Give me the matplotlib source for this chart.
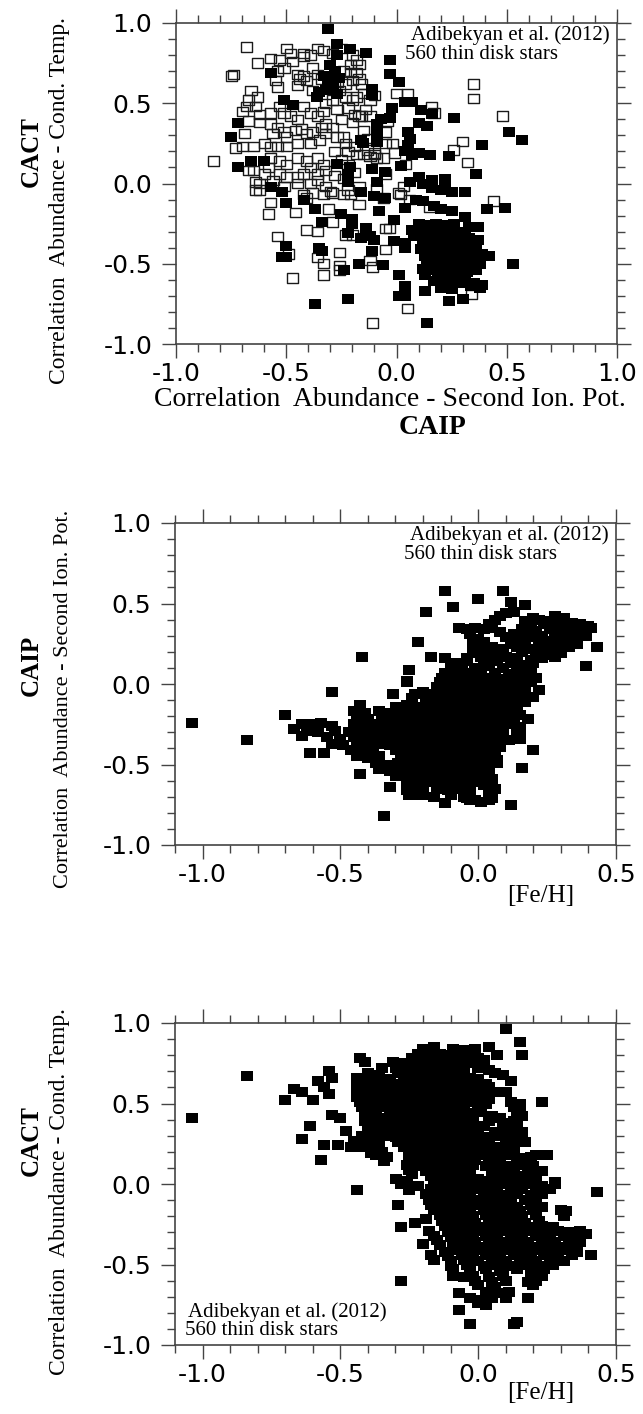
import numpy as np
import matplotlib
matplotlib.use("Agg")
import matplotlib.pyplot as plt
from matplotlib.path import Path
from matplotlib.ticker import MultipleLocator, FixedLocator, FormatStrFormatter

# Panel 1: (CAIP, CACT) per star, open and filled squares
p1_open = [
    (-0.68, 0.85), (-0.50, 0.84), (-0.48, 0.81), (-0.42, 0.81), (-0.36, 0.84), (-0.33, 0.83),
    (-0.53, 0.77), (-0.57, 0.78), (-0.47, 0.76), (-0.42, 0.79), (-0.39, 0.80), (-0.63, 0.75),
    (-0.74, 0.68), (-0.75, 0.67), (-0.54, 0.70), (-0.51, 0.72), (-0.55, 0.64), (-0.54, 0.60),
    (-0.45, 0.68), (-0.44, 0.65), (-0.42, 0.67), (-0.41, 0.64), (-0.36, 0.68), (-0.34, 0.65),
    (-0.24, 0.70), (-0.21, 0.69), (-0.18, 0.69), (-0.17, 0.65), (-0.16, 0.62), (-0.20, 0.64),
    (-0.23, 0.62), (-0.27, 0.63), (-0.26, 0.58), (-0.66, 0.58), (-0.63, 0.54), (-0.67, 0.52),
    (-0.64, 0.48), (-0.62, 0.43), (-0.68, 0.48), (-0.70, 0.45), (-0.57, 0.44), (-0.53, 0.48),
    (-0.51, 0.44), (-0.48, 0.42), (-0.45, 0.40), (-0.42, 0.48), (-0.39, 0.44), (-0.36, 0.42),
    (-0.33, 0.45), (-0.32, 0.50), (-0.29, 0.52), (-0.23, 0.54), (-0.20, 0.52), (-0.18, 0.54),
    (-0.15, 0.56), (-0.19, 0.43), (-0.16, 0.42), (-0.12, 0.52), (-0.10, 0.55), (-0.67, 0.39),
    (-0.62, 0.38), (-0.57, 0.37), (-0.54, 0.35), (-0.51, 0.32), (-0.56, 0.31), (-0.50, 0.29),
    (-0.46, 0.33), (-0.43, 0.34), (-0.41, 0.31), (-0.38, 0.32), (-0.34, 0.35), (-0.32, 0.37),
    (-0.29, 0.35), (-0.32, 0.31), (-0.27, 0.29), (-0.24, 0.29), (-0.23, 0.25), (-0.35, 0.27),
    (-0.39, 0.25), (-0.45, 0.25), (-0.50, 0.23), (-0.54, 0.23), (-0.57, 0.23), (-0.60, 0.25),
    (-0.65, 0.23), (-0.70, 0.23), (-0.73, 0.22), (-0.69, 0.31), (-0.18, 0.18), (-0.15, 0.18),
    (-0.12, 0.17), (-0.09, 0.16), (-0.06, 0.16), (-0.05, 0.25), (-0.12, 0.42), (-0.17, 0.42),
    (-0.57, 0.16), (-0.53, 0.14), (-0.50, 0.12), (-0.45, 0.16), (-0.41, 0.14), (-0.39, 0.10),
    (-0.36, 0.16), (-0.33, 0.12), (-0.32, 0.08), (-0.42, 0.06), (-0.45, 0.04), (-0.50, 0.04),
    (-0.53, 0.06), (-0.39, 0.00), (-0.36, 0.02), (-0.32, -0.02), (-0.30, -0.05), (-0.65, 0.08),
    (-0.67, 0.08), (-0.62, 0.00), (-0.64, 0.01), (-0.51, -0.02), (-0.45, 0.00), (-0.42, -0.07),
    (-0.41, -0.09), (-0.38, -0.06), (-0.33, -0.07), (-0.29, -0.06), (-0.24, -0.07), (-0.21, -0.07),
    (-0.17, -0.02), (-0.06, -0.09), (0.02, -0.07), (-0.20, 0.80), (-0.18, 0.77), (-0.17, 0.74),
    (-0.21, 0.74), (-0.25, 0.84), (-0.29, 0.81), (-0.38, 0.72), (-0.45, 0.61), (-0.38, 0.58),
    (-0.30, 0.60), (-0.27, 0.46), (-0.22, 0.47), (-0.14, 0.46), (-0.25, 0.40), (-0.20, 0.38),
    (-0.15, 0.33), (-0.13, 0.28), (-0.19, 0.23), (-0.22, 0.20), (-0.28, 0.20), (-0.25, 0.15),
    (-0.22, 0.12), (-0.19, 0.07), (-0.13, 0.21), (-0.10, 0.19), (-0.28, 0.05), (-0.24, 0.03),
    (-0.36, 0.06), (-0.58, 0.10), (-0.60, 0.06), (-0.56, 0.02), (-0.83, 0.14), (-0.64, -0.04),
    (-0.62, -0.04), (-0.57, -0.12), (-0.58, -0.19), (-0.54, -0.33), (-0.49, -0.44), (-0.47, -0.59),
    (-0.41, -0.29), (-0.36, -0.30), (-0.46, -0.18), (-0.31, -0.16), (-0.29, -0.24), (-0.36, -0.46),
    (-0.33, -0.50), (-0.33, -0.57), (-0.26, -0.43), (-0.26, -0.51), (-0.26, -0.54), (-0.23, -0.32),
    (-0.20, -0.32), (-0.17, -0.13), (-0.22, -0.04), (-0.12, -0.48), (-0.11, -0.52), (-0.05, -0.41),
    (-0.05, -0.28), (-0.03, -0.28), (-0.11, -0.87), (0.05, -0.78), (0.34, -0.69), (0.35, 0.62),
    (0.35, 0.53), (0.48, 0.42), (0.30, 0.26), (0.26, 0.21), (0.32, 0.13), (0.44, -0.11),
    (0.15, -0.15), (0.06, -0.10), (0.14, -0.43), (0.01, -0.06), (0.00, 0.56), (0.05, 0.56),
    (-0.04, 0.39), (-0.05, 0.32), (-0.02, 0.25), (-0.01, 0.19), (0.16, 0.48), (0.17, 0.44),
    (0.04, 0.12), (-0.10, 0.18), (-0.05, 0.06), (-0.09, -0.03), (0.03, -0.02),
]

p1_filled = [
    (-0.31, 0.96), (-0.27, 0.87), (-0.27, 0.80), (-0.21, 0.84), (-0.14, 0.81), (-0.03, 0.77),
    (-0.03, 0.68), (0.01, 0.63), (-0.57, 0.69), (-0.30, 0.74), (-0.33, 0.67), (-0.31, 0.64),
    (-0.29, 0.60), (-0.35, 0.57), (-0.36, 0.54), (-0.28, 0.70), (-0.26, 0.66), (-0.32, 0.58),
    (-0.27, 0.56), (-0.11, 0.59), (-0.11, 0.55), (-0.51, 0.52), (-0.47, 0.49), (0.04, 0.51),
    (0.07, 0.51), (0.11, 0.46), (0.16, 0.43), (0.26, 0.41), (-0.02, 0.47), (-0.03, 0.41),
    (-0.07, 0.40), (-0.09, 0.37), (-0.09, 0.31), (-0.09, 0.26), (-0.16, 0.27), (-0.15, 0.25),
    (0.10, 0.38), (0.14, 0.36), (0.05, 0.32), (0.06, 0.28), (0.05, 0.24), (0.04, 0.20),
    (0.07, 0.18), (0.10, 0.19), (0.15, 0.18), (0.24, 0.17), (0.39, 0.24), (0.51, 0.32),
    (0.57, 0.27), (-0.72, 0.38), (-0.75, 0.29), (-0.72, 0.10), (-0.66, 0.14), (-0.60, 0.14),
    (-0.27, 0.12), (-0.21, 0.10), (-0.22, 0.06), (-0.22, 0.01), (-0.11, 0.09), (-0.05, 0.07),
    (-0.09, 0.01), (0.02, 0.11), (0.06, 0.01), (0.10, 0.04), (0.12, 0.00), (0.16, -0.03),
    (0.20, -0.04), (0.22, -0.03), (0.16, 0.02), (0.22, 0.03), (0.25, -0.05), (0.31, -0.05),
    (0.36, 0.06), (-0.57, -0.02), (-0.52, -0.05), (-0.16, -0.05), (-0.10, -0.08), (-0.05, -0.09),
    (-0.50, -0.12), (-0.42, -0.10), (-0.37, -0.16), (-0.08, -0.17), (0.04, -0.15), (0.09, -0.10),
    (0.12, -0.11), (0.17, -0.14), (0.20, -0.16), (0.25, -0.17), (0.31, -0.21), (0.41, -0.16),
    (0.49, -0.15), (-0.25, -0.19), (-0.20, -0.22), (-0.20, -0.25), (-0.22, -0.31), (-0.16, -0.34),
    (-0.34, -0.24), (-0.01, -0.23), (-0.12, -0.33), (-0.14, -0.28), (-0.10, -0.35), (-0.01, -0.36),
    (0.04, -0.37), (0.04, -0.40), (-0.50, -0.39), (-0.50, -0.46), (-0.35, -0.40), (-0.34, -0.42),
    (-0.11, -0.42), (-0.52, -0.46), (-0.17, -0.50), (-0.06, -0.51), (-0.24, -0.54), (0.01, -0.57),
    (0.04, -0.64), (0.04, -0.70), (0.01, -0.70), (0.13, -0.67), (0.24, -0.73), (0.30, -0.72),
    (-0.22, -0.72), (-0.37, -0.75), (0.14, -0.87), (0.53, -0.50),
    (0.10, -0.25), (0.14, -0.26), (0.18, -0.25), (0.22, -0.26), (0.26, -0.25), (0.33, -0.27),
    (0.37, -0.27), (0.07, -0.29), (0.11, -0.30), (0.15, -0.29), (0.19, -0.30), (0.23, -0.29),
    (0.27, -0.31), (0.31, -0.30), (0.08, -0.33), (0.13, -0.34), (0.17, -0.33), (0.21, -0.34),
    (0.25, -0.33), (0.29, -0.35), (0.33, -0.34), (0.37, -0.35), (0.12, -0.37), (0.16, -0.38),
    (0.20, -0.37), (0.24, -0.38), (0.28, -0.37), (0.32, -0.39), (0.36, -0.38), (0.11, -0.41),
    (0.15, -0.42), (0.19, -0.41), (0.23, -0.42), (0.27, -0.41), (0.31, -0.43), (0.35, -0.42),
    (0.39, -0.44), (0.13, -0.45), (0.17, -0.46), (0.21, -0.45), (0.25, -0.46), (0.29, -0.45),
    (0.33, -0.47), (0.37, -0.46), (0.42, -0.45), (0.14, -0.49), (0.18, -0.50), (0.22, -0.49),
    (0.26, -0.50), (0.30, -0.49), (0.34, -0.51), (0.38, -0.50), (0.12, -0.53), (0.16, -0.54),
    (0.20, -0.53), (0.24, -0.54), (0.28, -0.53), (0.32, -0.55), (0.36, -0.54), (0.13, -0.57),
    (0.19, -0.58), (0.23, -0.57), (0.27, -0.58), (0.31, -0.57), (0.17, -0.61), (0.21, -0.62),
    (0.26, -0.61), (0.30, -0.62), (0.35, -0.62), (0.39, -0.63), (0.20, -0.65), (0.25, -0.66),
    (0.34, -0.64), (0.38, -0.65),
]

# Panel 2: ([Fe/H], CAIP)
p2_pts = [
    (-1.04, -0.24), (-0.84, -0.35), (-0.70, -0.19), (-0.53, -0.05), (-0.64, -0.25), (-0.67, -0.28),
    (-0.64, -0.32), (-0.61, -0.43), (-0.56, -0.43), (-0.43, -0.56), (-0.32, -0.64), (-0.34, -0.82),
    (-0.26, 0.01), (-0.31, -0.06), (-0.23, -0.06), (-0.26, -0.66), (-0.25, -0.69), (-0.20, -0.69),
    (-0.12, -0.74), (-0.04, -0.71), (-0.01, -0.72), (0.05, -0.71), (0.04, -0.66), (0.12, -0.75),
    (0.07, -0.49), (0.16, -0.52), (0.20, -0.41), (0.18, -0.22), (0.15, -0.27), (0.15, -0.34),
    (0.22, -0.04), (0.19, 0.02), (-0.12, 0.58), (0.09, 0.58), (0.00, 0.53), (0.12, 0.51),
    (-0.09, 0.48), (0.17, 0.49), (-0.19, 0.45), (-0.22, 0.26), (-0.42, 0.17), (-0.17, 0.17),
    (-0.12, 0.16), (-0.25, 0.09), (-0.26, 0.02), (0.39, 0.11), (0.43, 0.23), (0.41, 0.35),
    (0.10, 0.44), (0.13, 0.45), (0.08, 0.42), (0.20, 0.41), (0.28, 0.42),
    (0.06, 0.40), (0.17, 0.39), (0.22, 0.40), (0.25, 0.39), (0.31, 0.41), (0.34, 0.38),
    (0.04, 0.37), (0.19, 0.36), (0.24, 0.37), (0.27, 0.36), (0.30, 0.37), (0.33, 0.35),
    (0.37, 0.37), (0.40, 0.36), (-0.07, 0.35), (-0.04, 0.34), (-0.01, 0.35), (0.02, 0.34),
    (0.05, 0.35), (0.16, 0.34), (0.21, 0.33), (0.26, 0.34), (0.35, 0.33), (-0.03, 0.31),
    (0.08, 0.32), (0.13, 0.31), (0.18, 0.32), (0.23, 0.30), (0.28, 0.31), (0.31, 0.32),
    (0.36, 0.31), (0.39, 0.30), (0.00, 0.28), (0.10, 0.29), (0.15, 0.28), (0.20, 0.29),
    (0.25, 0.27), (0.29, 0.28), (0.33, 0.29), (-0.02, 0.25), (0.02, 0.26), (0.12, 0.25),
    (0.17, 0.26), (0.22, 0.25), (0.27, 0.24), (0.31, 0.26), (0.36, 0.25), (0.00, 0.22),
    (0.05, 0.23), (0.09, 0.22), (0.14, 0.23), (0.19, 0.22), (0.24, 0.21), (0.29, 0.22),
    (0.33, 0.23), (-0.02, 0.19), (0.03, 0.20), (0.07, 0.19), (0.16, 0.20), (0.21, 0.19),
    (0.26, 0.18), (0.30, 0.19), (-0.04, 0.16), (0.01, 0.17), (0.05, 0.16), (0.10, 0.17),
    (0.14, 0.16), (0.19, 0.15), (0.23, 0.16), (0.28, 0.17), (-0.08, 0.13), (-0.04, 0.14),
    (0.02, 0.13), (0.07, 0.14), (0.12, 0.13), (0.16, 0.12), (0.20, 0.13), (-0.10, 0.10),
    (-0.06, 0.11), (-0.01, 0.10), (0.04, 0.11), (0.09, 0.10), (0.14, 0.09), (0.18, 0.10),
    (-0.12, 0.07), (-0.07, 0.08), (-0.03, 0.07), (0.01, 0.08), (0.06, 0.07), (0.11, 0.06),
    (0.15, 0.07), (0.19, 0.08), (-0.13, 0.04), (-0.09, 0.05), (-0.05, 0.04), (0.00, 0.05),
    (0.04, 0.04), (0.08, 0.03), (0.13, 0.04), (0.17, 0.05), (0.21, 0.04), (-0.14, 0.01),
    (-0.10, 0.02), (-0.06, 0.01), (-0.02, 0.02), (0.02, 0.01), (0.06, 0.00), (0.10, 0.01),
    (0.15, 0.02), (0.19, 0.01), (-0.15, -0.02), (-0.11, -0.01), (-0.07, -0.02), (-0.03, -0.01),
    (0.01, -0.03), (0.05, -0.02), (0.09, -0.01), (0.13, -0.02), (0.17, -0.03), (-0.20, -0.05),
    (-0.16, -0.06), (-0.12, -0.05), (-0.08, -0.06), (-0.04, -0.05), (0.00, -0.06), (0.04, -0.05),
    (0.08, -0.07), (0.12, -0.05), (0.16, -0.06), (0.20, -0.08), (-0.24, -0.09), (-0.19, -0.10),
    (-0.15, -0.09), (-0.11, -0.10), (-0.07, -0.09), (-0.03, -0.10), (0.01, -0.09), (0.05, -0.11),
    (0.09, -0.09), (0.13, -0.10), (0.17, -0.11), (-0.43, -0.13), (-0.30, -0.14), (-0.26, -0.13),
    (-0.22, -0.14), (-0.18, -0.13), (-0.14, -0.14), (-0.10, -0.13), (-0.06, -0.14), (-0.02, -0.13),
    (0.02, -0.14), (0.06, -0.15), (0.10, -0.13), (0.14, -0.14), (-0.45, -0.17), (-0.41, -0.18),
    (-0.36, -0.17), (-0.32, -0.18), (-0.28, -0.17), (-0.24, -0.18), (-0.20, -0.17), (-0.16, -0.18),
    (-0.12, -0.17), (-0.08, -0.18), (-0.04, -0.17), (0.00, -0.18), (0.04, -0.19), (0.08, -0.17),
    (0.12, -0.18), (0.15, -0.19), (-0.44, -0.21), (-0.40, -0.22), (-0.35, -0.21), (-0.31, -0.22),
    (-0.27, -0.21), (-0.23, -0.22), (-0.19, -0.21), (-0.15, -0.22), (-0.11, -0.21), (-0.07, -0.22),
    (-0.03, -0.21), (0.01, -0.22), (0.05, -0.23), (0.09, -0.21), (0.13, -0.22), (-0.60, -0.25),
    (-0.57, -0.24), (-0.53, -0.26), (-0.45, -0.25), (-0.41, -0.26), (-0.37, -0.25), (-0.33, -0.26),
    (-0.29, -0.25), (-0.25, -0.26), (-0.21, -0.25), (-0.17, -0.26), (-0.13, -0.25), (-0.09, -0.26),
    (-0.05, -0.25), (-0.01, -0.26), (0.03, -0.25), (0.07, -0.27), (0.11, -0.25), (-0.62, -0.29),
    (-0.58, -0.30), (-0.52, -0.29), (-0.47, -0.30), (-0.43, -0.29), (-0.39, -0.30), (-0.35, -0.29),
    (-0.31, -0.30), (-0.27, -0.29), (-0.23, -0.30), (-0.19, -0.29), (-0.15, -0.30), (-0.11, -0.29),
    (-0.07, -0.30), (-0.03, -0.29), (0.01, -0.30), (0.05, -0.29), (0.09, -0.31), (0.14, -0.30),
    (-0.55, -0.33), (-0.50, -0.34), (-0.45, -0.33), (-0.41, -0.34), (-0.37, -0.33), (-0.33, -0.34),
    (-0.29, -0.33), (-0.25, -0.34), (-0.21, -0.33), (-0.17, -0.34), (-0.13, -0.33), (-0.09, -0.34),
    (-0.05, -0.33), (-0.01, -0.34), (0.03, -0.33), (0.07, -0.34), (0.11, -0.35), (0.15, -0.33),
    (-0.53, -0.37), (-0.49, -0.38), (-0.44, -0.37), (-0.40, -0.38), (-0.36, -0.37), (-0.32, -0.38),
    (-0.28, -0.37), (-0.24, -0.38), (-0.20, -0.37), (-0.16, -0.38), (-0.12, -0.37), (-0.08, -0.38),
    (-0.04, -0.37), (0.00, -0.38), (0.04, -0.37), (0.08, -0.39), (-0.46, -0.41), (-0.42, -0.42),
    (-0.38, -0.41), (-0.30, -0.41), (-0.26, -0.42), (-0.22, -0.41), (-0.18, -0.42), (-0.14, -0.41),
    (-0.10, -0.42), (-0.06, -0.41), (-0.02, -0.42), (0.02, -0.41), (0.06, -0.43), (-0.44, -0.45),
    (-0.40, -0.46), (-0.36, -0.45), (-0.28, -0.46), (-0.24, -0.45), (-0.20, -0.46), (-0.16, -0.45),
    (-0.12, -0.46), (-0.08, -0.45), (-0.04, -0.46), (0.00, -0.45), (0.04, -0.46), (0.07, -0.47),
    (-0.37, -0.49), (-0.33, -0.50), (-0.29, -0.49), (-0.25, -0.50), (-0.21, -0.49), (-0.17, -0.50),
    (-0.13, -0.49), (-0.09, -0.50), (-0.05, -0.49), (-0.01, -0.50), (0.03, -0.51), (-0.36, -0.53),
    (-0.32, -0.54), (-0.28, -0.53), (-0.24, -0.54), (-0.20, -0.53), (-0.16, -0.54), (-0.12, -0.53),
    (-0.08, -0.54), (-0.04, -0.53), (0.00, -0.54), (0.04, -0.55), (-0.30, -0.57), (-0.26, -0.58),
    (-0.22, -0.57), (-0.18, -0.58), (-0.14, -0.57), (-0.10, -0.58), (-0.06, -0.57), (-0.02, -0.58),
    (0.02, -0.57), (0.05, -0.59), (-0.26, -0.61), (-0.22, -0.62), (-0.18, -0.61), (-0.14, -0.62),
    (-0.10, -0.61), (-0.06, -0.62), (-0.02, -0.61), (0.02, -0.63), (-0.23, -0.65), (-0.20, -0.66),
    (-0.15, -0.65), (-0.11, -0.66), (-0.07, -0.65), (-0.03, -0.66), (0.06, -0.65), (-0.21, -0.69),
    (-0.16, -0.70), (-0.10, -0.69), (-0.05, -0.70), (0.05, -0.69), (-0.03, -0.72), (0.01, -0.73),
    (0.04, -0.72),
]

# Panel 3: ([Fe/H], CACT)
p3_pts = [
    (0.10, 0.96), (0.15, 0.88), (0.16, 0.80), (-0.84, 0.67), (-1.04, 0.41), (0.23, 0.51),
    (0.04, 0.85), (0.07, 0.80), (0.02, 0.77), (-0.43, 0.78), (-0.41, 0.76), (-0.31, 0.76),
    (-0.54, 0.70), (-0.53, 0.66), (-0.58, 0.64), (-0.56, 0.60), (-0.54, 0.56), (-0.67, 0.59),
    (-0.64, 0.57), (-0.70, 0.52), (-0.60, 0.52), (-0.53, 0.43), (-0.50, 0.41), (-0.48, 0.33),
    (-0.61, 0.36), (-0.64, 0.28), (-0.56, 0.24), (-0.51, 0.24), (-0.57, 0.15), (-0.34, 0.14),
    (-0.46, 0.23), (-0.42, 0.23), (-0.39, 0.19), (0.06, 0.69), (0.09, 0.68), (0.12, 0.64),
    (0.10, 0.57), (0.16, 0.42), (0.15, 0.46), (0.17, 0.26), (0.15, 0.16), (0.21, 0.18),
    (0.25, 0.18), (0.20, 0.11), (0.23, 0.08), (0.28, 0.01), (-0.44, -0.04), (-0.29, -0.13),
    (-0.28, -0.27), (-0.23, -0.24), (-0.19, -0.22), (-0.20, -0.37), (-0.28, -0.60), (-0.07, -0.68),
    (-0.07, -0.78), (-0.03, -0.87), (0.13, -0.87), (0.14, -0.86), (0.18, -0.71), (0.10, -0.71),
    (0.43, -0.05), (0.30, -0.16), (0.41, -0.44), (0.39, -0.31), (-0.09, -0.57), (-0.05, -0.58),
    (-0.17, -0.44),
    (-0.20, 0.84), (-0.16, 0.85), (-0.09, 0.84), (-0.05, 0.83), (-0.01, 0.84), (-0.22, 0.81),
    (-0.18, 0.80), (-0.14, 0.81), (-0.10, 0.80), (-0.06, 0.81), (-0.02, 0.80), (-0.24, 0.78),
    (-0.20, 0.77), (-0.16, 0.78), (-0.12, 0.77), (-0.08, 0.78), (-0.04, 0.77), (0.00, 0.78),
    (-0.27, 0.75), (-0.23, 0.74), (-0.19, 0.75), (-0.15, 0.74), (-0.11, 0.75), (-0.07, 0.74),
    (-0.03, 0.75), (-0.35, 0.72), (-0.30, 0.72), (-0.26, 0.71), (-0.22, 0.72), (-0.18, 0.71),
    (-0.14, 0.72), (-0.10, 0.71), (-0.06, 0.72), (0.00, 0.72), (0.04, 0.71), (-0.40, 0.69),
    (-0.36, 0.68), (-0.29, 0.69), (-0.25, 0.68), (-0.21, 0.69), (-0.17, 0.68), (-0.13, 0.69),
    (-0.09, 0.68), (-0.05, 0.69), (-0.44, 0.66), (-0.40, 0.65), (-0.36, 0.66), (-0.32, 0.65),
    (-0.27, 0.66), (-0.23, 0.65), (-0.19, 0.66), (-0.15, 0.65), (-0.11, 0.66), (-0.07, 0.65),
    (-0.03, 0.66), (0.00, 0.65), (-0.42, 0.63), (-0.38, 0.62), (-0.34, 0.63), (-0.30, 0.62),
    (-0.25, 0.63), (-0.21, 0.62), (-0.17, 0.63), (-0.13, 0.62), (-0.09, 0.63), (-0.05, 0.62),
    (-0.01, 0.63), (0.03, 0.62), (-0.44, 0.60), (-0.40, 0.59), (-0.36, 0.60), (-0.32, 0.59),
    (-0.28, 0.60), (-0.24, 0.59), (-0.20, 0.60), (-0.16, 0.59), (-0.12, 0.60), (-0.08, 0.59),
    (-0.04, 0.60), (0.00, 0.59), (0.04, 0.60), (-0.43, 0.57), (-0.39, 0.56), (-0.35, 0.57),
    (-0.31, 0.56), (-0.27, 0.57), (-0.22, 0.56), (-0.18, 0.57), (-0.14, 0.56), (-0.10, 0.57),
    (-0.06, 0.56), (-0.02, 0.57), (0.02, 0.56), (0.06, 0.57), (-0.44, 0.54), (-0.40, 0.53),
    (-0.33, 0.54), (-0.29, 0.53), (-0.25, 0.54), (-0.20, 0.53), (-0.16, 0.54), (-0.12, 0.53),
    (-0.08, 0.54), (-0.04, 0.53), (0.00, 0.54), (0.04, 0.53), (-0.43, 0.51), (-0.39, 0.50),
    (-0.35, 0.51), (-0.31, 0.50), (-0.26, 0.51), (-0.22, 0.50), (-0.18, 0.51), (-0.14, 0.50),
    (-0.10, 0.51), (-0.06, 0.50), (-0.02, 0.51), (0.03, 0.50), (0.12, 0.51), (0.15, 0.50),
    (-0.42, 0.48), (-0.38, 0.47), (-0.34, 0.48), (-0.29, 0.47), (-0.25, 0.48), (-0.21, 0.47),
    (-0.17, 0.48), (-0.13, 0.47), (-0.09, 0.48), (-0.05, 0.47), (0.00, 0.48), (0.13, 0.48),
    (-0.41, 0.45), (-0.37, 0.44), (-0.32, 0.45), (-0.28, 0.44), (-0.24, 0.45), (-0.19, 0.44),
    (-0.15, 0.45), (-0.11, 0.44), (-0.07, 0.45), (-0.03, 0.44), (0.01, 0.45), (0.14, 0.44),
    (-0.40, 0.42), (-0.35, 0.41), (-0.31, 0.42), (-0.27, 0.41), (-0.22, 0.42), (-0.18, 0.41),
    (-0.14, 0.42), (-0.10, 0.41), (-0.06, 0.42), (-0.02, 0.41), (0.05, 0.42), (0.08, 0.41),
    (-0.41, 0.39), (-0.37, 0.38), (-0.33, 0.39), (-0.29, 0.38), (-0.24, 0.39), (-0.20, 0.38),
    (-0.16, 0.39), (-0.12, 0.38), (-0.08, 0.39), (-0.04, 0.38), (0.04, 0.39), (0.10, 0.38),
    (0.13, 0.39), (-0.39, 0.36), (-0.35, 0.35), (-0.31, 0.36), (-0.26, 0.35), (-0.22, 0.36),
    (-0.18, 0.35), (-0.14, 0.36), (-0.10, 0.35), (-0.06, 0.36), (-0.02, 0.35), (0.02, 0.36),
    (0.09, 0.35), (0.14, 0.36), (-0.40, 0.33), (-0.36, 0.32), (-0.32, 0.33), (-0.28, 0.32),
    (-0.24, 0.33), (-0.20, 0.32), (-0.16, 0.33), (-0.12, 0.32), (-0.08, 0.33), (-0.04, 0.32),
    (0.00, 0.33), (0.06, 0.32), (0.12, 0.33), (0.16, 0.32), (-0.42, 0.30), (-0.38, 0.29),
    (-0.34, 0.30), (-0.30, 0.29), (-0.26, 0.30), (-0.22, 0.29), (-0.18, 0.30), (-0.14, 0.29),
    (-0.10, 0.30), (-0.06, 0.29), (-0.02, 0.30), (0.02, 0.29), (0.08, 0.30), (0.13, 0.29),
    (-0.45, 0.27), (-0.41, 0.26), (-0.37, 0.27), (-0.29, 0.26), (-0.25, 0.27), (-0.21, 0.26),
    (-0.17, 0.27), (-0.13, 0.26), (-0.09, 0.27), (-0.05, 0.26), (-0.01, 0.27), (0.04, 0.26),
    (0.10, 0.27), (0.15, 0.26), (-0.44, 0.24), (-0.40, 0.23), (-0.36, 0.24), (-0.27, 0.23),
    (-0.23, 0.24), (-0.19, 0.23), (-0.15, 0.24), (-0.11, 0.23), (-0.07, 0.24), (-0.03, 0.23),
    (0.01, 0.24), (0.06, 0.23), (0.12, 0.24), (-0.39, 0.21), (-0.35, 0.20), (-0.25, 0.21),
    (-0.21, 0.20), (-0.17, 0.21), (-0.13, 0.20), (-0.09, 0.21), (-0.05, 0.20), (0.00, 0.21),
    (0.04, 0.20), (0.09, 0.21), (0.13, 0.20), (-0.37, 0.18), (-0.33, 0.17), (-0.23, 0.18),
    (-0.19, 0.17), (-0.15, 0.18), (-0.11, 0.17), (-0.07, 0.18), (-0.03, 0.17), (0.02, 0.18),
    (0.06, 0.17), (0.11, 0.18), (0.19, 0.17), (-0.25, 0.15), (-0.21, 0.14), (-0.17, 0.15),
    (-0.13, 0.14), (-0.09, 0.15), (-0.05, 0.14), (-0.01, 0.15), (0.04, 0.14), (0.08, 0.15),
    (0.14, 0.14), (0.18, 0.15), (-0.26, 0.12), (-0.22, 0.11), (-0.18, 0.12), (-0.14, 0.11),
    (-0.10, 0.12), (-0.06, 0.11), (-0.02, 0.12), (0.03, 0.11), (0.07, 0.12), (0.11, 0.11),
    (0.16, 0.12), (-0.25, 0.09), (-0.19, 0.08), (-0.15, 0.09), (-0.11, 0.08), (-0.07, 0.09),
    (-0.03, 0.08), (0.05, 0.08), (0.09, 0.09), (0.13, 0.08), (0.18, 0.09), (-0.24, 0.06),
    (-0.17, 0.05), (-0.13, 0.06), (-0.09, 0.05), (-0.05, 0.06), (0.07, 0.05), (0.11, 0.06),
    (0.15, 0.05), (0.20, 0.06), (-0.30, 0.03), (-0.26, 0.02), (-0.16, 0.03), (-0.12, 0.02),
    (-0.08, 0.03), (-0.04, 0.02), (0.00, 0.03), (0.04, 0.02), (0.08, 0.03), (0.12, 0.02),
    (0.17, 0.03), (0.21, 0.02), (-0.28, 0.00), (-0.22, -0.01), (-0.15, 0.00), (-0.11, -0.01),
    (-0.07, 0.00), (-0.03, -0.01), (0.01, 0.00), (0.05, -0.01), (0.10, 0.00), (0.14, -0.01),
    (0.19, 0.00), (0.23, -0.01), (0.28, 0.00), (-0.25, -0.04), (-0.17, -0.03), (-0.13, -0.04),
    (-0.09, -0.03), (-0.05, -0.04), (-0.01, -0.03), (0.03, -0.04), (0.07, -0.03), (0.12, -0.04),
    (0.16, -0.03), (0.21, -0.04), (0.26, -0.03), (-0.19, -0.06), (-0.15, -0.07), (-0.11, -0.06),
    (-0.07, -0.07), (-0.03, -0.06), (0.02, -0.07), (0.06, -0.06), (0.10, -0.07), (0.14, -0.06),
    (0.19, -0.07), (0.23, -0.06), (-0.18, -0.10), (-0.13, -0.11), (-0.09, -0.10), (-0.05, -0.11),
    (-0.01, -0.10), (0.04, -0.11), (0.08, -0.10), (0.12, -0.11), (0.17, -0.10), (0.21, -0.11),
    (-0.17, -0.13), (-0.12, -0.14), (-0.08, -0.13), (-0.04, -0.14), (0.00, -0.13), (0.05, -0.14),
    (0.09, -0.13), (0.14, -0.14), (0.19, -0.13), (0.23, -0.14), (-0.16, -0.16), (-0.11, -0.17),
    (-0.07, -0.16), (-0.03, -0.17), (0.02, -0.16), (0.06, -0.17), (0.10, -0.16), (0.15, -0.17),
    (0.20, -0.16), (0.32, -0.17), (-0.14, -0.19), (-0.10, -0.20), (-0.06, -0.19), (-0.02, -0.20),
    (0.03, -0.19), (0.07, -0.20), (0.11, -0.19), (0.16, -0.20), (0.21, -0.19), (0.31, -0.20),
    (-0.13, -0.23), (-0.09, -0.24), (-0.05, -0.23), (-0.01, -0.24), (0.04, -0.23), (0.08, -0.24),
    (0.12, -0.23), (0.17, -0.24), (0.22, -0.23), (-0.12, -0.26), (-0.08, -0.27), (-0.04, -0.26),
    (0.00, -0.27), (0.05, -0.26), (0.09, -0.27), (0.14, -0.26), (0.18, -0.27), (0.23, -0.26),
    (0.27, -0.27), (-0.18, -0.29), (-0.11, -0.30), (-0.07, -0.29), (-0.03, -0.30), (0.01, -0.29),
    (0.06, -0.30), (0.10, -0.29), (0.15, -0.30), (0.20, -0.29), (0.25, -0.30), (0.29, -0.29),
    (0.33, -0.30), (0.37, -0.29), (-0.16, -0.32), (-0.10, -0.33), (-0.06, -0.32), (-0.02, -0.33),
    (0.03, -0.32), (0.07, -0.33), (0.12, -0.32), (0.16, -0.33), (0.21, -0.32), (0.26, -0.33),
    (0.31, -0.32), (0.35, -0.33), (-0.15, -0.35), (-0.09, -0.36), (-0.05, -0.35), (-0.01, -0.36),
    (0.04, -0.35), (0.09, -0.36), (0.13, -0.35), (0.18, -0.36), (0.23, -0.35), (0.28, -0.36),
    (0.33, -0.35), (0.37, -0.36), (-0.14, -0.38), (-0.08, -0.39), (-0.04, -0.38), (0.00, -0.39),
    (0.05, -0.38), (0.10, -0.39), (0.15, -0.38), (0.20, -0.39), (0.25, -0.38), (0.30, -0.39),
    (0.35, -0.38), (-0.12, -0.42), (-0.07, -0.41), (-0.03, -0.42), (0.02, -0.41), (0.07, -0.42),
    (0.12, -0.41), (0.17, -0.42), (0.22, -0.41), (0.27, -0.42), (0.32, -0.41), (0.36, -0.42),
    (-0.11, -0.45), (-0.06, -0.44), (-0.02, -0.45), (0.03, -0.44), (0.08, -0.45), (0.13, -0.44),
    (0.19, -0.45), (0.24, -0.44), (0.29, -0.45), (0.34, -0.44), (-0.16, -0.47), (-0.10, -0.48),
    (-0.05, -0.47), (0.00, -0.48), (0.05, -0.47), (0.10, -0.48), (0.15, -0.47), (0.21, -0.48),
    (0.26, -0.47), (0.31, -0.48), (-0.10, -0.51), (-0.04, -0.50), (0.02, -0.51), (0.07, -0.50),
    (0.12, -0.51), (0.17, -0.50), (0.22, -0.51), (0.27, -0.50), (-0.09, -0.53), (-0.03, -0.54),
    (0.03, -0.53), (0.08, -0.54), (0.14, -0.53), (0.19, -0.54), (0.24, -0.53), (-0.02, -0.57),
    (0.04, -0.58), (0.09, -0.57), (0.19, -0.58), (0.23, -0.57), (-0.01, -0.60), (0.05, -0.61),
    (0.10, -0.60), (0.18, -0.61), (0.21, -0.60), (0.00, -0.63), (0.06, -0.64), (0.20, -0.63),
    (0.03, -0.67), (0.07, -0.68), (0.11, -0.67), (-0.03, -0.71), (0.01, -0.72), (0.05, -0.71),
    (0.00, -0.74), (0.03, -0.75),
]

SERIF = "Liberation Serif"
TICK_FONT = "DejaVu Sans"
W, H = 643, 1414
MS1 = 64  # marker area (pt^2), top panel
MS = 72   # marker area (pt^2), [Fe/H] panels

# slightly wide box, like the squares in the scan
box = Path([(-0.59, -0.5), (0.59, -0.5), (0.59, 0.5), (-0.59, 0.5), (-0.59, -0.5)], closed=True)


def xy(points):
    a = np.array(points, dtype=float)
    return a[:, 0], a[:, 1]


def frame(ax, xlim, xmajor):
    ax.set_xlim(*xlim)
    ax.set_ylim(-1.0, 1.0)
    ax.xaxis.set_major_locator(FixedLocator(xmajor))
    ax.xaxis.set_minor_locator(MultipleLocator(0.1))
    ax.yaxis.set_major_locator(MultipleLocator(0.5))
    ax.yaxis.set_minor_locator(MultipleLocator(0.1))
    ax.xaxis.set_major_formatter(FormatStrFormatter("%.1f"))
    ax.yaxis.set_major_formatter(FormatStrFormatter("%.1f"))
    ax.tick_params(which="both", direction="out", top=True, right=True,
                   color="#444444", width=1.0, labelcolor="black")
    ax.tick_params(which="major", length=10, labelsize=18)
    ax.tick_params(which="minor", length=5.5)
    ax.tick_params(axis="x", which="major", pad=3)
    ax.tick_params(axis="y", which="major", pad=7)
    for lab in ax.get_xticklabels() + ax.get_yticklabels():
        lab.set_fontfamily(TICK_FONT)
    for sp in ax.spines.values():
        sp.set_color("#444444")
        sp.set_linewidth(1.2)


def ftext(x, y, s, **kw):
    # position given in pixels of the 643x1414 figure
    fig.text(x / W, 1 - y / H, s, ha="center", va="center", family=SERIF, **kw)


fig = plt.figure(figsize=(W / 100, H / 100), dpi=100)
ax1 = fig.add_axes([176 / W, 1 - 344 / H, 441 / W, 321 / H])
ax2 = fig.add_axes([175 / W, 1 - 845 / H, 441 / W, 322 / H])
ax3 = fig.add_axes([175 / W, 1 - 1345 / H, 441 / W, 322 / H])

# panel 1
x, y = xy(p1_open)
ax1.scatter(x, y, marker=box, s=MS1, facecolors="none", edgecolors="#1a1a1a", linewidths=1.0)
x, y = xy(p1_filled)
ax1.scatter(x, y, marker=box, s=MS1, c="black", linewidths=0)
frame(ax1, (-1.0, 1.0), [-1.0, -0.5, 0.0, 0.5, 1.0])

# panel 2
x, y = xy(p2_pts)
ax2.scatter(x, y, marker=box, s=MS, c="black", linewidths=0)
frame(ax2, (-1.1, 0.5), [-1.0, -0.5, 0.0, 0.5])

# panel 3
x, y = xy(p3_pts)
ax3.scatter(x, y, marker=box, s=MS, c="black", linewidths=0)
frame(ax3, (-1.1, 0.5), [-1.0, -0.5, 0.0, 0.5])

note = dict(family=SERIF, fontsize=15)
for ax in (ax1, ax2):
    ax.text(0.984, 0.963, "Adibekyan et al. (2012)", transform=ax.transAxes,
            ha="right", va="center", **note)
    ax.text(0.519, 0.903, "560 thin disk stars", transform=ax.transAxes,
            ha="left", va="center", **note)
ax3.text(0.030, 0.103, "Adibekyan et al. (2012)", transform=ax3.transAxes,
         ha="left", va="center", **note)
ax3.text(0.023, 0.044, "560 thin disk stars", transform=ax3.transAxes,
         ha="left", va="center", **note)

# axis titles
ftext(31, 152, "CACT", rotation=90, fontsize=18, fontweight="bold")
ftext(60, 201, "Correlation  Abundance - Cond. Temp.", rotation=90, fontsize=17)
ftext(390, 399, "Correlation  Abundance - Second Ion. Pot.", fontsize=20)
ftext(432, 428, "CAIP", fontsize=20, fontweight="bold")

ftext(31, 665, "CAIP", rotation=90, fontsize=18, fontweight="bold")
ftext(64, 699, "Correlation  Abundance - Second Ion. Pot.", rotation=90, fontsize=16)
ftext(541, 896, "[Fe/H]", fontsize=18)

ftext(31, 1141, "CACT", rotation=90, fontsize=18, fontweight="bold")
ftext(60, 1192, "Correlation  Abundance - Cond. Temp.", rotation=90, fontsize=17)
ftext(541, 1393, "[Fe/H]", fontsize=18)

fig.savefig("out.png", dpi=100)
